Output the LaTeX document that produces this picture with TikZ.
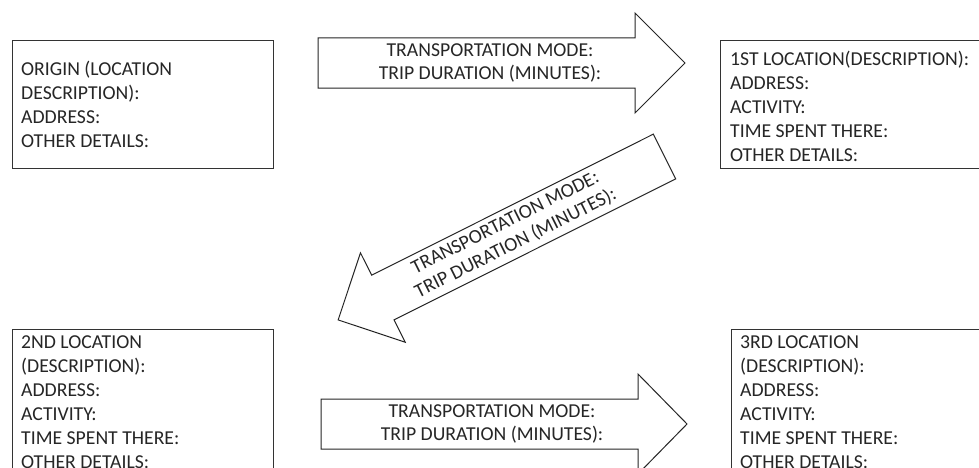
\documentclass[tikz,border=0pt]{standalone}
\usepackage{fontspec}
\setmainfont{Carlito}
\begin{document}
\begin{tikzpicture}[x=1pt,y=1pt,
  box/.style={draw=black!80, line width=1pt, inner sep=0pt, anchor=north west},
  arr/.style={draw=black!85, line width=1pt, line join=miter},
  boxtext/.style={anchor=north west, inner sep=0pt, align=left, font=\fontsize{19.7}{24}\selectfont, text=black!85},
  arrtext/.style={inner sep=0pt, align=center, font=\fontsize{19.7}{23}\selectfont, text=black!85}]
\useasboundingbox (0,0) rectangle (979,467);
\clip (0,0) rectangle (979,467);
\fill[white] (0,0) rectangle (979,467);

% boxes
\node[box, minimum width=261, minimum height=128] (origin) at (12,427) {};
\node[box, minimum width=280, minimum height=128] (first) at (720,427) {};
\node[box, minimum width=261, minimum height=160] (second) at (12,138) {};
\node[box, minimum width=280, minimum height=160] (third) at (731,138) {};

% box texts
\node[boxtext] (origintext) at (21,408) {\rule{0pt}{16pt}ORIGIN (LOCATION\\DESCRIPTION):\\ADDRESS:\\OTHER DETAILS:};
\node[boxtext] (firsttext) at (730,418) {\rule{0pt}{16pt}1ST LOCATION(DESCRIPTION):\\ADDRESS:\\ACTIVITY:\\TIME SPENT THERE:\\OTHER DETAILS:};
\node[boxtext] (secondtext) at (21,135) {\rule{0pt}{16pt}2ND LOCATION\\(DESCRIPTION):\\ADDRESS:\\ACTIVITY:\\TIME SPENT THERE:\\OTHER DETAILS:};
\node[boxtext] (thirdtext) at (740,135) {\rule{0pt}{16pt}3RD LOCATION\\(DESCRIPTION):\\ADDRESS:\\ACTIVITY:\\TIME SPENT THERE:\\OTHER DETAILS:};

% top arrow
\begin{scope}[shift={(318,404)}]
\draw[arr] (0,25) -- (317,25) -- (317,50) -- (367,0) -- (317,-50) -- (317,-25) -- (0,-25) -- cycle;
\node[arrtext] (trip1) at (172,0) {TRANSPORTATION MODE:\\TRIP DURATION (MINUTES):};
\end{scope}

% diagonal arrow
\begin{scope}[shift={(664.5,310.5)}, rotate=206.6]
\draw[arr] (0,25) -- (315,25) -- (315,50) -- (365,0) -- (315,-50) -- (315,-25) -- (0,-25) -- cycle;
\node[arrtext, rotate=26.6] (trip2) at (172,0) {TRANSPORTATION MODE:\\TRIP DURATION (MINUTES):};
\end{scope}

% bottom arrow
\begin{scope}[shift={(321,43)}]
\draw[arr] (0,25) -- (317,25) -- (317,50) -- (366,0) -- (317,-50) -- (317,-25) -- (0,-25) -- cycle;
\node[arrtext] (trip3) at (171,0) {TRANSPORTATION MODE:\\TRIP DURATION (MINUTES):};
\end{scope}
\end{tikzpicture}
\end{document}
